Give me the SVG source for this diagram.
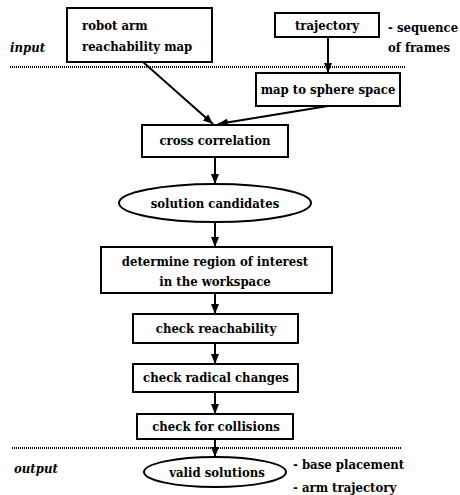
<svg xmlns="http://www.w3.org/2000/svg" width="460" height="495" viewBox="0 0 460 495">
  <style>
    .box { fill: #fff; stroke: #000; stroke-width: 2; }
    .t { font-family: "DejaVu Serif Condensed", "DejaVu Serif", serif; font-weight: bold; font-size: 13px; fill: #000; }
    .c { text-anchor: middle; }
    .it { font-style: italic; }
    .edge { stroke: #000; stroke-width: 2; fill: none; marker-end: url(#arrow); }
    .sep { stroke: #000; stroke-width: 2; stroke-dasharray: 1 1; }
  </style>
  <defs>
    <marker id="arrow" viewBox="0 0 10 10" refX="10" refY="5" markerWidth="5" markerHeight="5" orient="auto" markerUnits="strokeWidth">
      <path d="M0,1 L10,5 L0,9 Z" fill="#000"/>
    </marker>
  </defs>

  <rect width="460" height="495" fill="#fff"/>

  <!-- section separators -->
  <line class="sep" x1="10" y1="67" x2="405" y2="67"/>
  <line class="sep" x1="12" y1="448" x2="402" y2="448"/>
  <text class="t it" x="10" y="52">input</text>
  <text class="t it" x="14" y="473">output</text>

  <!-- connectors -->
  <g id="connectors">
    <line class="edge" x1="143" y1="62" x2="213" y2="124"/>
    <line class="edge" x1="328" y1="37" x2="328" y2="73"/>
    <line class="edge" x1="328" y1="106" x2="218" y2="124"/>
    <line class="edge" x1="215" y1="157" x2="215" y2="184"/>
    <line class="edge" x1="215" y1="222" x2="215" y2="247"/>
    <line class="edge" x1="215" y1="293" x2="215" y2="314"/>
    <line class="edge" x1="215" y1="343" x2="215" y2="364"/>
    <line class="edge" x1="215" y1="392" x2="215" y2="414"/>
    <line class="edge" x1="215" y1="439" x2="215" y2="457"/>
  </g>

  <g id="reachability-map">
    <rect class="box" x="67" y="8" width="145" height="54"/>
    <text class="t" x="82" y="30">robot arm</text>
    <text class="t" x="82" y="51">reachability map</text>
  </g>

  <g id="trajectory">
    <rect class="box" x="275" y="13" width="104" height="24"/>
    <text class="t c" x="327" y="30">trajectory</text>
    <text class="t" x="388" y="32">- sequence</text>
    <text class="t" x="388" y="52">of frames</text>
  </g>

  <g id="sphere-map">
    <rect class="box" x="256" y="73" width="144" height="33"/>
    <text class="t c" x="328" y="94">map to sphere space</text>
  </g>

  <g id="cross-correlation">
    <rect class="box" x="142" y="125" width="146" height="32"/>
    <text class="t c" x="215" y="145">cross correlation</text>
  </g>

  <g id="solution-candidates">
    <ellipse class="box" cx="215" cy="203" rx="96" ry="19"/>
    <text class="t c" x="215" y="208">solution candidates</text>
  </g>

  <g id="region-of-interest">
    <rect class="box" x="101" y="247" width="231" height="46"/>
    <text class="t c" x="215" y="266">determine region of interest</text>
    <text class="t c" x="215" y="286">in the workspace</text>
  </g>

  <g id="check-reachability">
    <rect class="box" x="133" y="314" width="165" height="29"/>
    <text class="t c" x="216" y="333">check reachability</text>
  </g>

  <g id="check-radical">
    <rect class="box" x="133" y="364" width="165" height="28"/>
    <text class="t c" x="216" y="382">check radical changes</text>
  </g>

  <g id="check-collisions">
    <rect class="box" x="137" y="414" width="156" height="25"/>
    <text class="t c" x="216" y="431">check for collisions</text>
  </g>

  <g id="valid-solutions">
    <ellipse class="box" cx="215" cy="472" rx="71" ry="15"/>
    <text class="t c" x="217" y="477">valid solutions</text>
    <text class="t" x="293" y="469">- base placement</text>
    <text class="t" x="293" y="492">- arm trajectory</text>
  </g>
</svg>
